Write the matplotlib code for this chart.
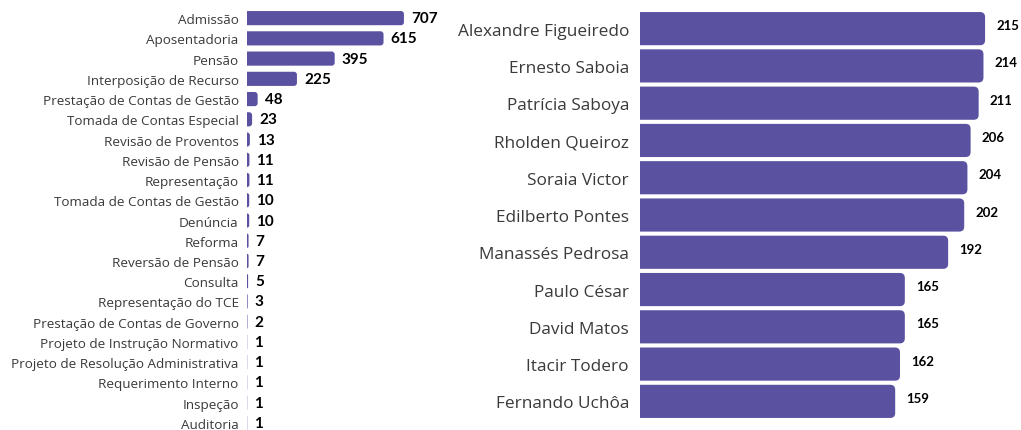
import matplotlib
matplotlib.use("Agg")
import matplotlib.pyplot as plt
from matplotlib.patches import FancyBboxPatch

BAR_COLOR = "#5a52a0"
LABEL_COLOR = "#3a3a3a"

process_types = [
    "Admissão", "Aposentadoria", "Pensão", "Interposição de Recurso",
    "Prestação de Contas de Gestão", "Tomada de Contas Especial",
    "Revisão de Proventos", "Revisão de Pensão", "Representação",
    "Tomada de Contas de Gestão", "Denúncia", "Reforma", "Reversão de Pensão",
    "Consulta", "Representação do TCE", "Prestação de Contas de Governo",
    "Projeto de Instrução Normativo", "Projeto de Resolução Administrativa",
    "Requerimento Interno", "Inspeção", "Auditoria",
]
process_counts = [707, 615, 395, 225, 48, 23, 13, 11, 11, 10, 10, 7, 7, 5, 3, 2,
                  1, 1, 1, 1, 1]

rapporteurs = [
    "Alexandre Figueiredo", "Ernesto Saboia", "Patrícia Saboya",
    "Rholden Queiroz", "Soraia Victor", "Edilberto Pontes",
    "Manassés Pedrosa", "Paulo César", "David Matos", "Itacir Todero",
    "Fernando Uchôa",
]
rapporteur_counts = [215, 214, 211, 206, 204, 202, 192, 165, 165, 162, 159]

W, H, DPI = 1021, 431, 100


def round_right_corners(ax, bars, radius_px):
    """Swap plain bars for bars with rounded right corners.

    The rounded box starts left of the axis and is clipped there, so the
    left corners stay square.
    """
    bbox = ax.get_window_extent()
    x0, x1 = ax.get_xlim()
    y0, y1 = ax.get_ylim()
    x_per_px = abs(x1 - x0) / bbox.width
    y_per_px = abs(y1 - y0) / bbox.height
    aspect = y_per_px / x_per_px
    for bar in bars:
        x, y = bar.get_x(), bar.get_y()
        w, h = bar.get_width(), bar.get_height()
        bar.set_visible(False)
        r = min(radius_px * x_per_px, w)
        patch = FancyBboxPatch(
            (x - r, y), w + r, h,
            boxstyle=f"round,pad=0,rounding_size={r}",
            mutation_aspect=aspect, facecolor=BAR_COLOR, edgecolor="none")
        ax.add_patch(patch)


def draw_panel(ax, labels, values, xmax, height, label_size, value_size,
               value_offset, tick_pad):
    ypos = list(range(len(labels)))
    bars = ax.barh(ypos, values, height=height, color=BAR_COLOR)
    ax.set_xlim(0, xmax)
    ax.set_ylim(len(labels) - 0.5, -0.5)
    ax.set_yticks(ypos, labels)
    ax.tick_params(axis="y", length=0, pad=tick_pad, labelsize=label_size,
                   labelcolor=LABEL_COLOR)
    for lbl in ax.get_yticklabels():
        lbl.set_family(["Open Sans", "DejaVu Sans"])
    ax.set_xticks([])
    for side in ax.spines.values():
        side.set_visible(False)
    for y, v in zip(ypos, values):
        ax.annotate(str(v), (v, y), xytext=value_offset,
                    textcoords="offset points", va="center", ha="left",
                    fontsize=value_size, fontweight="bold", color="black",
                    family=["Lato", "DejaVu Sans"])
    return bars


fig = plt.figure(figsize=(W / DPI, H / DPI), dpi=DPI)

# left panel: processes by type
ax_left = fig.add_axes([247 / W, 1 - 434 / H, 190 / W, 425 / H])
left_bars = draw_panel(ax_left, process_types, process_counts,
                       xmax=190 / 0.222, height=0.7, label_size=9.7,
                       value_size=11, value_offset=(5, 0), tick_pad=6)

# right panel: processes by rapporteur
ax_right = fig.add_axes([640 / W, 1 - 421 / H, 381 / W, 410 / H])
right_bars = draw_panel(ax_right, rapporteurs, rapporteur_counts,
                        xmax=381 / 1.605, height=0.89, label_size=12.4,
                        value_size=9.5, value_offset=(8, 2.5), tick_pad=8)

fig.canvas.draw()
round_right_corners(ax_left, left_bars, 3)
round_right_corners(ax_right, right_bars, 5)

fig.savefig("out.png", dpi=DPI)
